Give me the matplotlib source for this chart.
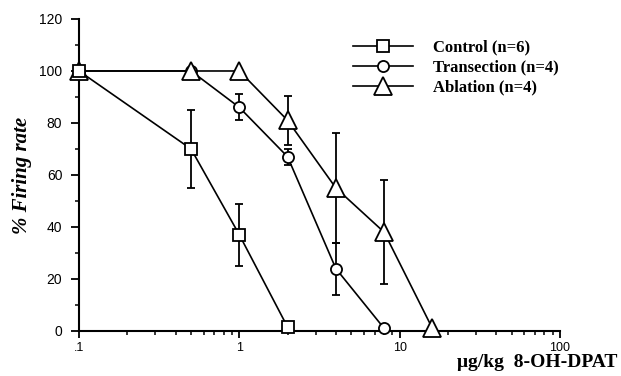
import numpy as np
import matplotlib.pyplot as plt
from matplotlib.ticker import FixedLocator, NullFormatter, MultipleLocator

# dose (ug/kg) and % firing rate
ctrl_x = [0.1, 0.5, 1, 2]
ctrl_y = [100, 70, 37, 1.5]
ctrl_err = [0, 15, 12, 0]

trans_x = [0.1, 0.5, 1, 2, 4, 8]
trans_y = [100, 100, 86, 67, 24, 1]
trans_err = [0, 0, 5, 3, 10, 0]

abl_x = [0.1, 0.5, 1, 2, 4, 8, 16]
abl_y = [100, 100, 100, 81, 55, 38, 1]
abl_err = [0, 0, 0, 9.5, 21, 20, 0]

labels = ['Control (n=6)', 'Transection (n=4)', 'Ablation (n=4)']

plt.rcParams['font.family'] = ['Liberation Sans', 'DejaVu Sans']

fig = plt.figure(figsize=(6.21, 3.76), dpi=100)
ax = fig.add_axes([0.1272, 0.1197, 0.9018 - 0.1272, 0.9495 - 0.1197])

kw = dict(color='black', lw=1.2, capsize=3, elinewidth=1.3, capthick=1.3,
          markerfacecolor='white', markeredgecolor='black', markeredgewidth=1.3,
          clip_on=False)
ax.errorbar(trans_x, trans_y, yerr=trans_err, marker='o', ms=8, label=labels[1], zorder=3, **kw)
ax.errorbar(abl_x, abl_y, yerr=abl_err, marker='^', ms=13, label=labels[2], zorder=4, **kw)
ax.errorbar(ctrl_x, ctrl_y, yerr=ctrl_err, marker='s', ms=8, label=labels[0], zorder=5, **kw)

ax.set_xscale('log')
ax.set_xlim(0.1, 100)
ax.set_ylim(0, 120)
ax.spines['top'].set_visible(False)
ax.spines['right'].set_visible(False)
ax.spines['left'].set_linewidth(1.5)
ax.spines['bottom'].set_linewidth(1.5)

ax.xaxis.set_major_locator(FixedLocator([0.1, 1, 10, 100]))
ax.set_xticklabels(['.1', '1', '10', '100'])
minors = [m * d for d in [0.1, 1, 10] for m in range(2, 10)]
ax.xaxis.set_minor_locator(FixedLocator(minors))
ax.xaxis.set_minor_formatter(NullFormatter())
ax.yaxis.set_major_locator(MultipleLocator(20))
ax.yaxis.set_minor_locator(MultipleLocator(10))
ax.tick_params(which='major', direction='out', length=6, width=1.3, labelsize=10, pad=6)
ax.tick_params(axis='x', which='major', length=5, pad=3, labelsize=9)
ax.tick_params(which='minor', direction='out', length=3, width=1.1)

ax.set_ylabel('% Firing rate', family='Liberation Serif', style='italic',
              weight='bold', fontsize=15, labelpad=5)
fig.text(0.994, 0.024, 'μg/kg  8-OH-DPAT', family='Liberation Serif',
         weight='bold', fontsize=14, ha='right', va='baseline')

h, l = ax.get_legend_handles_labels()
handles = [h[l.index(x)][0] for x in labels]
leg = fig.legend(handles, labels, loc='upper left', bbox_to_anchor=(0.545, 0.935),
                 frameon=False, handlelength=3.6, handletextpad=1.2, labelspacing=0.25,
                 prop=dict(family='Liberation Serif', weight='bold', size=12))

fig.savefig('out.png', dpi=100)
